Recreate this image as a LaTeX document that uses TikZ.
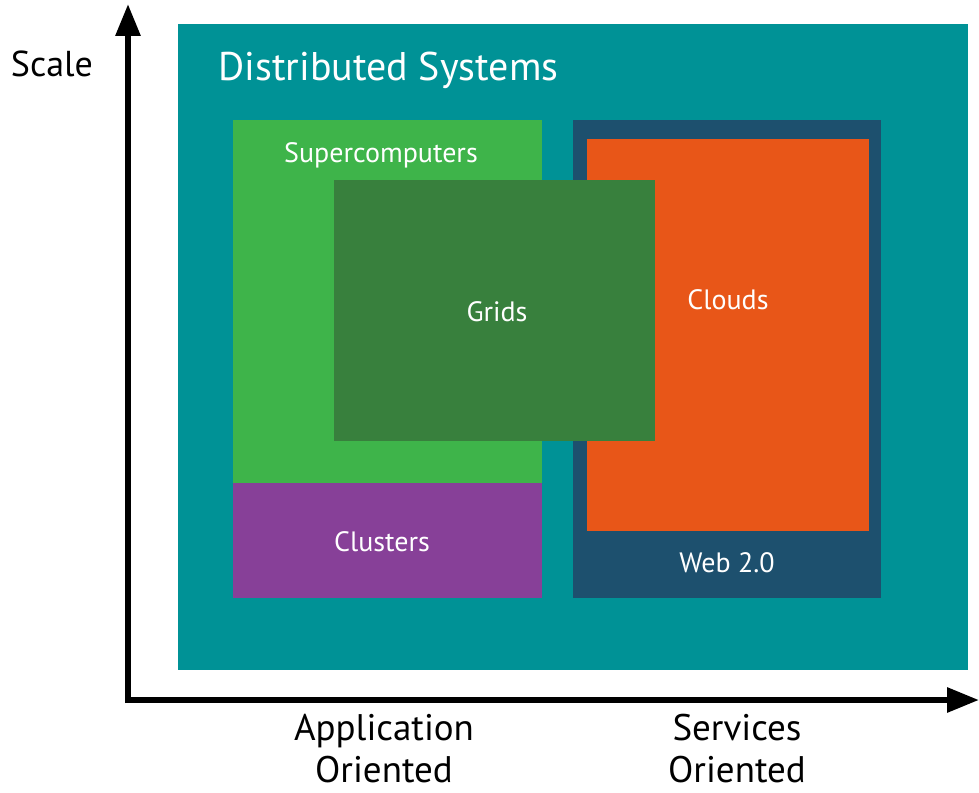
\documentclass[tikz,border=0pt]{standalone}
\usepackage{fontspec}
\setmainfont{PT Sans}
\usetikzlibrary{arrows.meta}
\definecolor{dsteal}{RGB}{0,146,150}
\definecolor{scgreen}{RGB}{62,180,74}
\definecolor{gridgreen}{RGB}{56,128,61}
\definecolor{clpurple}{RGB}{135,64,152}
\definecolor{webblue}{RGB}{29,80,110}
\definecolor{cloudorange}{RGB}{232,86,24}
\tikzset{
  panel/.style={fill=#1, draw=none},
  inlabel/.style={text=white, font=\fontsize{28}{32}\selectfont},
  axislabel/.style={text=black, font=\fontsize{37}{42}\selectfont, align=center, inner sep=0pt},
  axisline/.style={line width=6pt, -{Triangle[length=32pt,width=24pt]}}
}
\begin{document}
\begin{tikzpicture}[x=1pt,y=-1pt]
  \useasboundingbox (0,0) rectangle (979,792);
  % regions
  \fill[panel=dsteal] (178,24) rectangle (968,670);
  \fill[panel=scgreen] (233,120) rectangle (542,483);
  \fill[panel=clpurple] (233,483) rectangle (542,598);
  \fill[panel=webblue] (573,120) rectangle (881,598);
  \fill[panel=cloudorange] (587,139) rectangle (869,531);
  \fill[panel=gridgreen] (334,180) rectangle (655,441);
  % labels
  \node[text=white, font=\fontsize{40}{46}\selectfont, anchor=base west] (ds) at (215,80) {Distributed Systems};
  \node[inlabel, anchor=base] (sc) at (381,162) {Supercomputers};
  \node[inlabel, anchor=base] (gr) at (497,321) {Grids};
  \node[inlabel, anchor=base] (cl) at (728,309) {Clouds};
  \node[inlabel, anchor=base] (cu) at (382,551) {Clusters};
  \node[inlabel, anchor=base] (wb) at (727,572) {Web 2.0};
  % axes
  \coordinate (o) at (128,700);
  \coordinate (ytop) at (128,4);
  \coordinate (xend) at (979,700);
  \draw[axisline] (128,703) -- (ytop);
  \draw[axisline] (125,700) -- (xend);
  \node[font=\fontsize{36}{40}\selectfont, anchor=base] (scale) at (52,77) {Scale};
  \node[axislabel, anchor=north] (app) at (384,714) {Application\\Oriented};
  \node[axislabel, anchor=north] (srv) at (737,714) {Services\\Oriented};
\end{tikzpicture}
\end{document}
